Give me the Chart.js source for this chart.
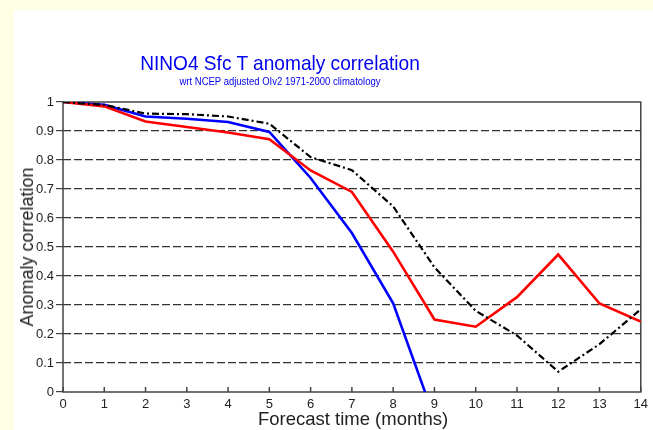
<!DOCTYPE html>
<html>
<head>
<meta charset="utf-8">
<script src="https://cdn.jsdelivr.net/npm/chart.js@4.4.1/dist/chart.umd.min.js"></script>
<style>
  html, body { margin: 0; padding: 0; background: #ffffe6; }
  #wrap { position: relative; width: 653px; height: 430px; overflow: hidden; }
  #panel { position: absolute; left: 14px; top: 10px; right: 0; bottom: 0; background: #fff; }
  canvas { position: absolute; left: 0; top: 0; }
  .t { position: absolute; font-family: "Liberation Sans", Arial, sans-serif; white-space: nowrap; line-height: 1; }
  #title { left: 280px; top: 52px; font-size: 21px; color: #0000ee; transform: translateX(-50%) scaleX(0.91); }
  #subtitle { left: 280px; top: 77px; font-size: 10px; color: #0000ee; transform: translateX(-50%) scaleX(0.95); }
  #xtitle { left: 353px; top: 410px; font-size: 18.5px; color: #222; transform: translateX(-50%); }
  #ytitle { left: 27px; top: 247px; font-size: 18px; color: #222; transform: translate(-50%, -50%) rotate(-90deg); }
</style>
</head>
<body>
<div id="wrap">
  <div id="panel"></div>
  <canvas id="chart" width="653" height="430"></canvas>
  <div class="t" id="title">NINO4 Sfc T anomaly correlation</div>
  <div class="t" id="subtitle">wrt NCEP adjusted OIv2 1971-2000 climatology</div>
  <div class="t" id="xtitle">Forecast time (months)</div>
  <div class="t" id="ytitle">Anomaly correlation</div>
</div>
<script>
const months = [0, 1, 2, 3, 4, 5, 6, 7, 8, 9, 10, 11, 12, 13, 14];
const blackValues = [1.0, 0.99, 0.96, 0.958, 0.95, 0.925, 0.81, 0.765, 0.64, 0.43, 0.28, 0.195, 0.07, 0.165, 0.285];
const redValues = [1.0, 0.985, 0.933, 0.914, 0.895, 0.872, 0.764, 0.69, 0.484, 0.25, 0.225, 0.327, 0.474, 0.305, 0.243];
const blueValues = [1.0, 0.99, 0.95, 0.942, 0.931, 0.897, 0.738, 0.548, 0.306, -0.09];

const AXIS_COLOR = '#444';
const FONT = {family: '"Liberation Sans", Arial, sans-serif', size: 13};

function points(values) {
  return values.map((v, i) => ({x: months[i], y: v}));
}

// box around the plot plus the small inward ticks on the x axis
const frame = {
  id: 'frame',
  beforeDatasetsDraw(chart) {
    const {ctx, chartArea: a, scales: {x}} = chart;
    ctx.save();
    ctx.strokeStyle = AXIS_COLOR;
    ctx.lineWidth = 1.5;
    ctx.strokeRect(a.left, a.top, a.right - a.left, a.bottom - a.top);
    ctx.beginPath();
    months.forEach((m) => {
      const px = x.getPixelForValue(m);
      ctx.moveTo(px, a.bottom);
      ctx.lineTo(px, a.bottom - 5);
    });
    ctx.stroke();
    ctx.restore();
  },
};

new Chart(document.getElementById('chart'), {
  type: 'line',
  data: {
    datasets: [
      {data: points(blackValues), borderColor: '#000', borderWidth: 2.2, borderDash: [7, 3, 2, 3]},
      {data: points(redValues), borderColor: '#ff0000', borderWidth: 2.6},
      {data: points(blueValues), borderColor: '#0000ff', borderWidth: 2.6},
    ],
  },
  options: {
    responsive: false,
    animation: false,
    layout: {padding: {top: 102, right: 12, left: 0, bottom: 0}},
    elements: {point: {radius: 0}, line: {tension: 0}},
    plugins: {legend: {display: false}, tooltip: {enabled: false}},
    scales: {
      x: {
        type: 'linear',
        min: 0,
        max: 14,
        afterFit: (scale) => { scale.height = 38; },
        border: {display: false},
        grid: {drawOnChartArea: false, drawTicks: false},
        ticks: {stepSize: 1, padding: 5, color: '#222', font: FONT, maxRotation: 0},
      },
      y: {
        min: 0,
        max: 1,
        afterFit: (scale) => { scale.width = 63; },
        border: {display: false, dash: [8, 3]},
        grid: {
          color: (ctx) => (ctx.tick && (ctx.tick.value <= 0 || ctx.tick.value >= 1) ? 'rgba(0,0,0,0)' : '#333'),
          lineWidth: 1.2,
          tickColor: AXIS_COLOR,
          tickLength: 7,
          tickBorderDash: [],
        },
        ticks: {stepSize: 0.1, padding: 2, color: '#222', font: FONT, callback: (v) => String(+v.toFixed(1))},
      },
    },
  },
  plugins: [frame],
});
</script>
</body>
</html>
